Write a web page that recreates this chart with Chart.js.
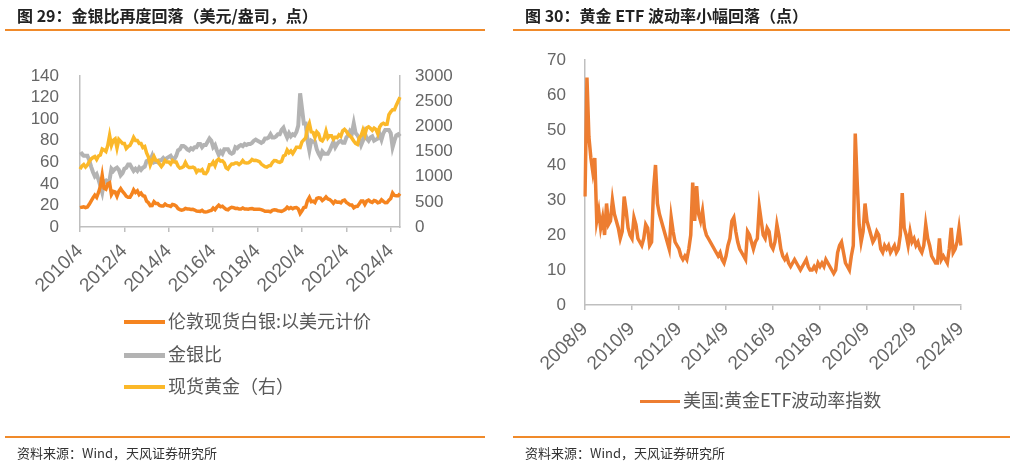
<!DOCTYPE html>
<html>
<head>
<meta charset="utf-8">
<script src="https://cdn.jsdelivr.net/npm/chart.js@4.4.1/dist/chart.umd.min.js"></script>
<style>
  body { margin: 0; background: #fff; }
  #page { position: relative; width: 1016px; height: 465px; overflow: hidden; font-family: "Noto Sans CJK SC", "Noto Sans", sans-serif; }
  canvas { position: absolute; top: 0; }
  .title { position: absolute; top: 4px; font-size: 16px; font-weight: bold; color: #222; line-height: 22px; white-space: nowrap; }
  .rule { position: absolute; height: 2px; background: #F08A2A; }
  .source { position: absolute; top: 443px; font-size: 13px; color: #333; line-height: 20px; white-space: nowrap; }
  .leg { position: absolute; font-size: 18px; color: #595959; line-height: 24px; white-space: nowrap; }
  .leg i { display: inline-block; width: 41px; height: 4px; vertical-align: middle; margin-right: 3px; position: relative; top: -1px; }
</style>
</head>
<body>
<div id="page">
  <canvas id="chartRatio" width="508" height="465" style="left:0"></canvas>
  <canvas id="chartVol" width="508" height="465" style="left:508px"></canvas>

  <div class="title" style="left:17px">图 29：金银比再度回落（美元/盎司，点）</div>
  <div class="rule" style="left:5px; top:29px; width:480px"></div>
  <div class="title" style="left:525px">图 30：黄金 ETF 波动率小幅回落（点）</div>
  <div class="rule" style="left:513px; top:29px; width:497px"></div>

  <div class="leg" style="left:124px; top:308px"><i style="background:#F5841F"></i>伦敦现货白银:以美元计价</div>
  <div class="leg" style="left:124px; top:341px"><i style="background:#B3B3B3;height:5px"></i>金银比</div>
  <div class="leg" style="left:124px; top:373px"><i style="background:#FBB829"></i>现货黄金（右）</div>
  <div class="leg" style="left:640px; top:387px"><i style="background:#ED7D31;width:40px;height:3px"></i>美国:黄金ETF波动率指数</div>

  <div class="rule" style="left:5px; top:436px; width:480px; height:1.5px"></div>
  <div class="source" style="left:17px">资料来源：Wind，天风证券研究所</div>
  <div class="rule" style="left:513px; top:436px; width:497px; height:1.5px"></div>
  <div class="source" style="left:525px">资料来源：Wind，天风证券研究所</div>
</div>
<script>
// 图29：月度数据 2010/4 - 2024/9
const silverPrice = [
  18.0, 18.4, 18.7, 18.0, 18.5, 21.0, 24.0, 27.0, 29.5,
  27.5, 32.0, 37.5, 48.0, 36.0, 35.0, 40.0, 41.0, 30.0, 33.0, 32.5, 28.5,
  33.0, 35.5, 33.0, 31.0, 28.5, 27.5, 27.5, 30.5, 34.5, 32.0, 33.5, 30.0,
  31.5, 29.0, 28.5, 24.0, 22.5, 19.8, 19.9, 23.5, 21.8, 21.8, 20.0, 19.5,
  19.5, 21.2, 20.0, 19.7, 19.0, 20.9, 20.5, 19.5, 17.1, 16.2, 15.6, 16.0,
  17.3, 16.7, 16.6, 16.2, 16.5, 15.7, 14.8, 14.6, 14.5, 15.5, 14.1, 13.9,
  14.2, 15.0, 15.4, 17.5, 16.0, 18.5, 20.3, 18.7, 19.3, 17.7, 16.4, 16.0,
  17.5, 18.3, 18.0, 17.2, 17.3, 16.6, 16.7, 17.6, 16.7, 16.7, 16.5, 17.0,
  17.2, 16.5, 16.4, 16.4, 16.4, 16.1, 15.5, 14.6, 14.6, 14.6, 14.1, 15.5,
  15.9, 15.7, 15.1, 14.9, 14.5, 15.3, 16.4, 18.4, 17.0, 18.0, 17.0, 17.9,
  18.0, 16.8, 12.5, 15.0, 18.0, 18.5, 24.5, 27.5, 23.5, 23.9, 22.6, 26.4,
  27.0, 26.7, 24.5, 25.9, 27.9, 26.0, 25.5, 24.0, 22.0, 24.0, 23.0, 23.2,
  22.4, 24.4, 25.0, 22.8, 21.7, 20.3, 20.3, 17.8, 19.0, 19.2, 21.5, 24.0,
  24.0, 21.0, 24.0, 25.0, 23.5, 22.8, 24.5, 24.0, 22.5, 23.0, 25.3, 23.8,
  22.6, 22.7, 24.9, 26.5, 31.5, 29.2, 28.9, 28.9, 31.0
];
const goldSilverRatio = [
  67, 68, 66, 66, 66, 62, 56, 51, 47,
  49, 44, 38, 32, 42, 43, 41, 44, 54, 52, 54, 55,
  53, 48, 50, 54, 55, 58, 58, 55, 52, 54, 52, 55,
  53, 55, 56, 61, 62, 62, 66, 60, 61, 60, 62, 62,
  64, 62, 64, 65, 66, 63, 63, 66, 71, 72, 75, 75,
  74, 72, 71, 73, 72, 74, 74, 77, 77, 74, 76, 76,
  79, 82, 80, 74, 76, 71, 67, 70, 68, 72, 72, 72,
  69, 68, 69, 74, 73, 75, 76, 75, 77, 76, 77, 77,
  78, 80, 81, 80, 79, 78, 79, 82, 82, 83, 86, 83,
  83, 84, 86, 86, 90, 92, 87, 83, 87, 84, 86, 85,
  88, 94, 124, 110, 96, 96, 80, 71, 80, 79, 79, 72,
  68, 65, 70, 68, 68, 68, 71, 75, 79, 74, 77, 79,
  80, 78, 78, 83, 85, 89, 87, 96, 87, 85, 82, 76,
  80, 87, 82, 80, 83, 84, 80, 81, 82, 86, 81, 87,
  90, 90, 90, 87, 74, 80, 85, 86, 84
];
const goldPrice = [
  1150, 1210, 1240, 1190, 1230, 1300, 1350, 1380, 1400,
  1340, 1410, 1430, 1550, 1530, 1500, 1620, 1820, 1620, 1720, 1750, 1570,
  1740, 1700, 1660, 1660, 1560, 1600, 1620, 1690, 1780, 1720, 1720, 1660,
  1660, 1580, 1600, 1470, 1390, 1230, 1320, 1400, 1320, 1320, 1250, 1200,
  1250, 1320, 1290, 1290, 1250, 1320, 1290, 1290, 1210, 1170, 1180, 1200,
  1280, 1210, 1180, 1180, 1190, 1170, 1090, 1130, 1115, 1140, 1065, 1060,
  1115, 1235, 1235, 1290, 1215, 1320, 1350, 1310, 1315, 1275, 1175, 1150,
  1210, 1250, 1250, 1270, 1270, 1240, 1270, 1320, 1280, 1270, 1275, 1300,
  1340, 1320, 1325, 1315, 1300, 1250, 1225, 1200, 1190, 1215, 1220, 1280,
  1320, 1315, 1295, 1285, 1305, 1410, 1430, 1530, 1475, 1510, 1460, 1520,
  1585, 1585, 1580, 1690, 1730, 1770, 1970, 2060, 1890, 1880, 1780, 1890,
  1850, 1730, 1710, 1770, 1905, 1770, 1815, 1815, 1745, 1785, 1775, 1830,
  1800, 1910, 1940, 1900, 1840, 1810, 1765, 1710, 1660, 1640, 1770, 1815,
  1930, 1830, 1970, 1990, 1960, 1920, 1965, 1940, 1850, 1985, 2040, 2060,
  2040, 2045, 2230, 2290, 2330, 2330, 2420, 2500, 2580
];
const leftTicks = [0, 20, 40, 60, 80, 100, 120, 140];
const rightTicks = [0, 500, 1000, 1500, 2000, 2500, 3000];

// 图30：月度数据 2008/9 - 2024/9
const goldEtfVol = [
  31, 65, 48, 42,
  38, 42, 24, 27, 22, 25, 20, 29, 23, 24, 30, 26,
  24, 22, 19, 21, 31, 27, 22, 20, 19, 25, 23, 19,
  18, 17, 19, 23, 22, 17, 18, 33, 40, 29, 26, 24,
  22, 20, 18, 16, 25, 21, 18, 17, 16, 14, 13, 14,
  13, 16, 20, 35, 24, 34, 26, 24, 27, 22, 20, 19,
  18, 17, 16, 15, 14, 15, 13, 12, 14, 17, 19, 24,
  25, 21, 18, 16, 15, 14, 13, 21, 20, 18, 16, 18,
  19, 28, 24, 20, 19, 22, 21, 17, 16, 18, 23, 20,
  16, 14, 13, 14, 12, 11, 12, 13, 12, 11, 10, 11,
  12, 13, 11, 10, 10, 11, 10, 12, 11, 12, 11, 13,
  12, 11, 10, 9, 10, 15, 17, 18, 15, 12, 11, 10,
  14, 17, 49, 35, 23, 18, 21, 29, 24, 22, 20, 18,
  19, 21, 20, 16, 15, 17, 16, 17, 15, 16, 17, 15,
  16, 20, 32, 22, 20, 17, 21, 18, 19, 17, 18, 16,
  15, 17, 23, 19, 17, 14, 13, 12, 12, 19, 13, 14,
  13, 12, 16, 22, 15, 16, 18, 22, 17
];
const volTicks = [0, 10, 20, 30, 40, 50, 60, 70];

function monthLabels(year, month, count) {
  const out = [];
  for (let i = 0; i < count; i++) {
    out.push(year + "/" + month);
    month++;
    if (month > 12) { month = 1; year++; }
  }
  return out;
}

const ratioLabels = monthLabels(2010, 4, silverPrice.length);
const volLabels = monthLabels(2008, 9, goldEtfVol.length);

const fontFamily = "'Liberation Sans', Arial, sans-serif";
const axisColor = "#BFBFBF";
const tickColor = "#666";

function xAxis(labels, height) {
  return {
    type: "category",
    offset: false,
    grid: { display: true, drawOnChartArea: false, drawTicks: true, tickLength: 5, color: axisColor, lineWidth: 1.5 },
    border: { display: true, color: axisColor, width: 1.5 },
    ticks: {
      autoSkip: false, maxRotation: 45, minRotation: 45, padding: 8,
      color: tickColor, font: { family: fontFamily, size: 19 },
      callback: function (v, i) { return i % 24 === 0 ? labels[i] : null; }
    },
    afterFit: function (s) { s.height = height; }
  };
}

function yAxis(pos, values, width, pad, size) {
  return {
    position: pos,
    min: values[0],
    max: values[values.length - 1],
    afterBuildTicks: function (s) { s.ticks = values.map(v => ({ value: v })); },
    grid: { display: true, drawOnChartArea: false, drawTicks: false },
    border: { display: true, color: axisColor, width: 1.5 },
    ticks: {
      autoSkip: false, color: tickColor, font: { family: fontFamily, size: size }, padding: pad,
      callback: function (v) { return String(v); }
    },
    afterFit: function (s) { s.width = width; }
  };
}

const baseOptions = {
  responsive: false,
  animation: false,
  devicePixelRatio: 1,
  plugins: { legend: { display: false }, tooltip: { enabled: false } },
  elements: { point: { radius: 0 }, line: { tension: 0 } }
};

// 左图：金银比
new Chart(document.getElementById("chartRatio").getContext("2d"), {
  type: "line",
  data: {
    labels: ratioLabels,
    datasets: [
      { label: "现货黄金（右）", data: goldPrice, yAxisID: "y1", borderColor: "#FBB829", backgroundColor: "#FBB829", borderWidth: 3.5, order: 0 },
      { label: "伦敦现货白银:以美元计价", data: silverPrice, yAxisID: "y", borderColor: "#F5841F", backgroundColor: "#F5841F", borderWidth: 3.5, order: 1 },
      { label: "金银比", data: goldSilverRatio, yAxisID: "y", borderColor: "#B3B3B3", backgroundColor: "#B3B3B3", borderWidth: 4, order: 2 }
    ]
  },
  options: Object.assign({}, baseOptions, {
    layout: { padding: { top: 76, left: 0, right: 0, bottom: 0 } },
    scales: {
      x: xAxis(ratioLabels, 238),
      y: yAxis("left", leftTicks, 80, 21, 17),
      y1: yAxis("right", rightTicks, 108, 15, 17)
    }
  })
});

// 右图：黄金ETF波动率
new Chart(document.getElementById("chartVol").getContext("2d"), {
  type: "line",
  data: {
    labels: volLabels,
    datasets: [
      { label: "美国:黄金ETF波动率指数", data: goldEtfVol, borderColor: "#ED7D31", backgroundColor: "#ED7D31", borderWidth: 3.5 }
    ]
  },
  options: Object.assign({}, baseOptions, {
    layout: { padding: { top: 60, left: 0, right: 55, bottom: 0 } },
    scales: {
      x: xAxis(volLabels, 160),
      y: yAxis("left", volTicks, 77, 19, 17)
    }
  })
});
</script>
</body>
</html>
